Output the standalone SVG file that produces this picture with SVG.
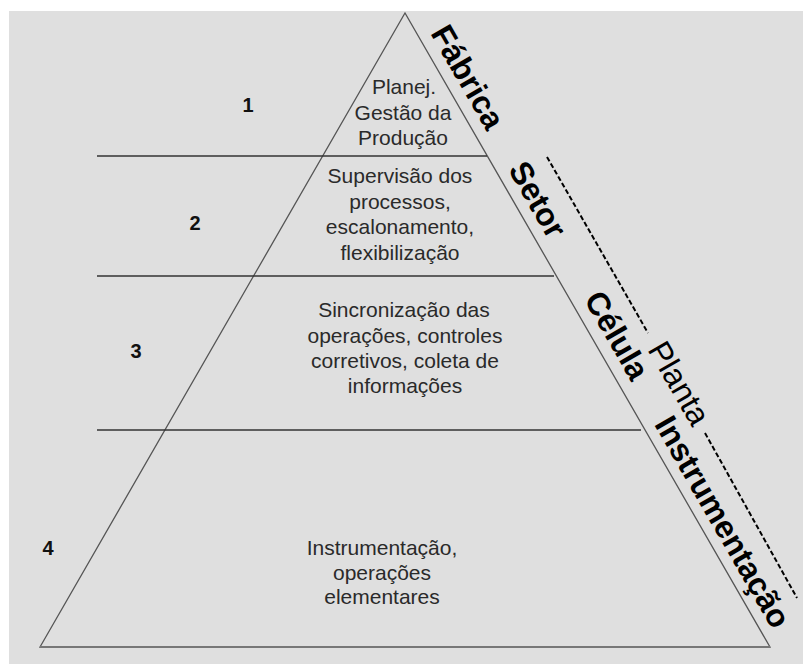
<svg xmlns="http://www.w3.org/2000/svg" width="803" height="664" viewBox="0 0 803 664">
<style>
.body{font-family:"Liberation Sans",Arial,sans-serif;font-size:21px;fill:#2a2a2a;text-anchor:middle}
.num{font-family:"Liberation Sans",Arial,sans-serif;font-size:20px;font-weight:bold;fill:#111;text-anchor:middle}
.lab{font-family:"Liberation Sans",Arial,sans-serif;font-size:32px;font-weight:bold;fill:#000;text-anchor:middle}
.labr{font-family:"Liberation Sans",Arial,sans-serif;font-size:32px;fill:#000;text-anchor:middle}
.hl{stroke:#333;stroke-width:1.5}
.dash{stroke:#000;stroke-width:2;stroke-dasharray:5 2.5;fill:none}
</style>
<rect x="0" y="0" width="803" height="664" fill="#fff"/>
<rect x="9" y="11" width="794" height="653" fill="#dfdfdf"/>
<g id="pyramid">
<polygon points="405,13 40,647 770,647" fill="none" stroke="#555" stroke-width="1.3"/>
<line x1="40" y1="647" x2="770" y2="647" stroke="#777" stroke-width="2.2"/>
</g>
<g id="connectors">
<line class="hl" x1="97" y1="156" x2="487" y2="156"/>
<line class="hl" x1="97" y1="276" x2="554" y2="276"/>
<line class="hl" x1="97" y1="430" x2="641" y2="430"/>
<line class="dash" x1="547" y1="157" x2="648" y2="333"/>
<line class="dash" x1="705" y1="433" x2="797" y2="598"/>
</g>
<g id="level1">
<text class="num" x="248" y="112">1</text>
<text class="body" x="404" y="94">Planej.</text>
<text class="body" x="403" y="120">Gestão da</text>
<text class="body" x="403" y="145">Produção</text>
</g>
<g id="level2">
<text class="num" x="195" y="230">2</text>
<text class="body" x="400" y="183">Supervisão dos</text>
<text class="body" x="400" y="209">processos,</text>
<text class="body" x="400" y="234">escalonamento,</text>
<text class="body" x="400" y="260">flexibilização</text>
</g>
<g id="level3">
<text class="num" x="136" y="358">3</text>
<text class="body" x="404" y="317">Sincronização das</text>
<text class="body" x="405" y="343">operações, controles</text>
<text class="body" x="405" y="368">corretivos, coleta de</text>
<text class="body" x="405" y="393">informações</text>
</g>
<g id="level4">
<text class="num" x="48" y="555">4</text>
<text class="body" x="382" y="555">Instrumentação,</text>
<text class="body" x="382" y="580">operações</text>
<text class="body" x="382" y="604">elementares</text>
</g>
<g id="label-fabrica"><text class="lab" transform="translate(458.5,82.6) rotate(60.07)">Fábrica</text></g>
<g id="label-setor"><text class="lab" transform="translate(528.2,205) rotate(60.07)">Setor</text></g>
<g id="label-celula"><text class="lab" transform="translate(607.5,340.8) rotate(60.07)">Célula</text></g>
<g id="label-instrumentacao"><text class="lab" transform="translate(713.2,527.4) rotate(60.07)">Instrumentação</text></g>
<g id="label-planta"><text class="labr" transform="translate(669.7,388.7) rotate(60.07)">Planta</text></g>
</svg>
